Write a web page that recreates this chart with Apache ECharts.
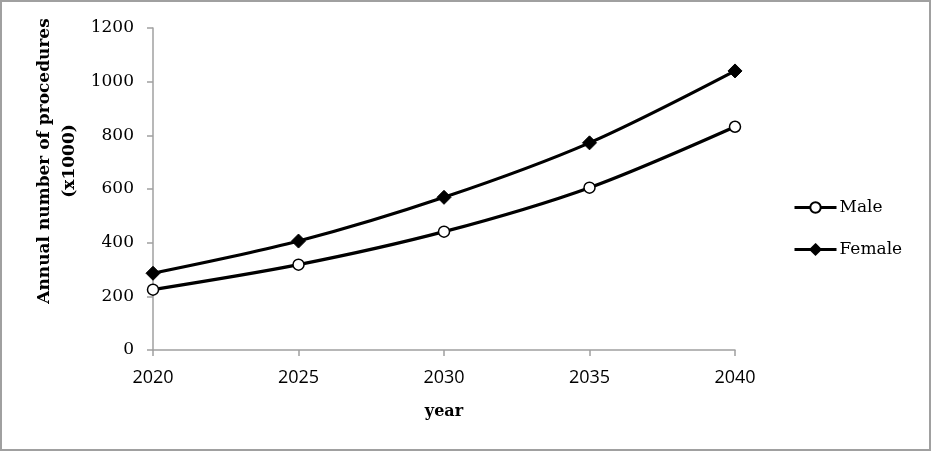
<!DOCTYPE html>
<html><head><meta charset="utf-8">
<script src="https://cdn.jsdelivr.net/npm/echarts@6/dist/echarts.min.js"></script>
<style>html,body{margin:0;padding:0;background:#fff}#c{width:932px;height:452px}</style>
</head><body><div id="c"></div>
<script>
const years = ['2020','2025','2030','2035','2040'];
const male = [225, 318, 441, 605, 832];
const female = [286, 406, 569, 772, 1040];
const yTicks = [0, 200, 400, 600, 800, 1000, 1200];
const yTitle = 'Annual number of procedures\n(x1000)';
const xTitle = 'year';

const chart = echarts.init(document.getElementById('c'));
const serif = '"DejaVu Serif", "Liberation Serif", serif';
chart.setOption({
  animation: false,
  backgroundColor: '#fff',
  graphic: [
    {type:'rect', shape:{x:1,y:1,width:929,height:449}, style:{fill:'none', stroke:'#a0a0a0', lineWidth:2}, silent:true},
    {type:'text', x:57, y:161, rotation:Math.PI/2, silent:true,
     style:{text:yTitle, fontFamily:serif, fontWeight:'bold', fontSize:17, lineHeight:25, fill:'#000',
            align:'center', verticalAlign:'middle'}}
  ],
  grid: {left:153, right:197, top:28, bottom:102, containLabel:false},
  xAxis: {
    type:'category', data: years, boundaryGap:false,
    name:xTitle, nameLocation:'middle', nameGap:54,
    nameTextStyle:{fontFamily:serif, fontWeight:'bold', fontSize:16, color:'#000'},
    axisLine:{lineStyle:{color:'#a0a0a0', width:1.5}},
    axisTick:{show:true, length:6, lineStyle:{color:'#a0a0a0', width:1.5}},
    axisLabel:{fontFamily:'"Open Sans", "Liberation Sans", sans-serif', fontSize:18, color:'#000', margin:19}
  },
  yAxis: {
    type:'value', min:0, max:1200, interval:200,
    axisLine:{show:true, lineStyle:{color:'#a0a0a0', width:1.5}},
    axisTick:{show:true, length:6, lineStyle:{color:'#a0a0a0', width:1.5}},
    splitLine:{show:false},
    axisLabel:{fontFamily:serif, fontSize:17, color:'#000', margin:19,
      formatter: v => yTicks.includes(v) ? String(v) : ''}
  },
  legend: {
    orient:'vertical', left:793, top:199, padding:0, itemGap:25, itemWidth:42, itemHeight:13,
    lineStyle:{width:3},
    textStyle:{fontFamily:serif, fontSize:17, color:'#000', padding:[0,0,0,-2]},
    data:[{name:'Male'},{name:'Female'}]
  },
  series: [
    {name:'Male', type:'line', data: male, smooth:0.3, symbol:'circle', symbolSize:11,
     lineStyle:{color:'#000', width:3.2}, itemStyle:{color:'#fff', borderColor:'#000', borderWidth:1.5}},
    {name:'Female', type:'line', data: female, smooth:0.3, symbol:'diamond', symbolSize:14,
     lineStyle:{color:'#000', width:3.2}, itemStyle:{color:'#000', borderColor:'#000', borderWidth:1}}
  ]
});
</script></body></html>
